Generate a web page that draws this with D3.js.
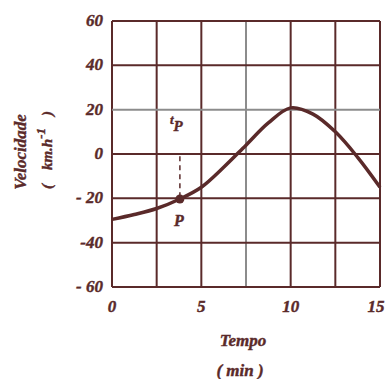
<!DOCTYPE html>
<html>
<head>
<meta charset="utf-8">
<script src="https://cdn.jsdelivr.net/npm/d3@7"></script>
<style>
body { margin: 0; background: #fff; }
svg text { font-family: "Liberation Serif", "DejaVu Serif", serif; font-style: italic; font-weight: bold; fill: #5a2a2a; stroke: #5a2a2a; stroke-width: 0.4; }
</style>
</head>
<body>
<div id="chart"></div>
<script>
// values
var tempo = [0, 1.25, 2.5, 3.8, 5, 6.25, 7.5, 8.75, 10, 11.25, 12.5, 13.75, 15];
var velocidade = [-29.5, -27.3, -24.6, -20.3, -15, -6, 4, 14, 20.8, 18, 10, -1.5, -15];
var xTicks = [0, 5, 10, 15];
var yTicks = [60, 40, 20, 0, -20, -40, -60];
var yTickText = ["60", "40", "20", "0", "- 20", "-40", "- 60"];
var gridX = [0, 2.5, 5, 7.5, 10, 12.5, 15];
var pontoP = {t: 3.8, v: -20.3};

var ink = "#5a2a2a", grey = "#8c8c8c";
var width = 391, height = 379;
var plotLeft = 112, plotRight = 380, plotTop = 21, plotBottom = 287;

var svg = d3.select("#chart").append("svg")
	.attr("width", width)
	.attr("height", height);

var x = d3.scaleLinear().domain([0, 15]).range([plotLeft, plotRight]);
var y = d3.scaleLinear().domain([-60, 60]).range([plotBottom, plotTop]);

// grid (the 7.5 column and the 20 row are printed in grey)
svg.append("g").selectAll("line").data(gridX).enter().append("line")
	.attr("x1", function (d) { return x(d); })
	.attr("x2", function (d) { return x(d); })
	.attr("y1", plotTop).attr("y2", plotBottom)
	.attr("stroke", function (d) { return d == 7.5 ? grey : ink; })
	.attr("stroke-width", 2);
svg.append("g").selectAll("line").data(yTicks).enter().append("line")
	.attr("x1", plotLeft).attr("x2", plotRight)
	.attr("y1", function (d) { return y(d); })
	.attr("y2", function (d) { return y(d); })
	.attr("stroke", function (d) { return d == 20 ? grey : ink; })
	.attr("stroke-width", 2);

// tick labels
svg.append("g").selectAll("text").data(yTicks).enter().append("text")
	.attr("x", 103)
	.attr("y", function (d) { return y(d) + 5; })
	.attr("text-anchor", "end")
	.attr("font-size", 17)
	.text(function (d, i) { return yTickText[i]; });
svg.append("g").selectAll("text").data(xTicks).enter().append("text")
	.attr("x", function (d) { return x(d) - (d == 15 ? 4 : 0); })
	.attr("y", 312)
	.attr("text-anchor", "middle")
	.attr("font-size", 17)
	.text(function (d) { return d; });

// curve
var line = d3.line()
	.x(function (d, i) { return x(tempo[i]); })
	.y(function (d) { return y(d); })
	.curve(d3.curveCatmullRom.alpha(0.5));
svg.append("path")
	.datum(velocidade)
	.attr("d", line)
	.attr("fill", "none")
	.attr("stroke", ink)
	.attr("stroke-width", 3.5);

// point P and t_P
svg.append("line")
	.attr("x1", x(pontoP.t)).attr("x2", x(pontoP.t))
	.attr("y1", y(-1)).attr("y2", y(pontoP.v) - 4)
	.attr("stroke", ink).attr("stroke-width", 1.5)
	.attr("stroke-dasharray", "5,4");
svg.append("circle")
	.attr("cx", x(pontoP.t)).attr("cy", y(pontoP.v))
	.attr("r", 4.5).attr("fill", ink);
svg.append("text")
	.attr("x", x(pontoP.t) - 1).attr("y", y(pontoP.v) + 27)
	.attr("text-anchor", "middle").attr("font-size", 16).text("P");
var tp = svg.append("text")
	.attr("x", x(pontoP.t) - 10).attr("y", 124)
	.attr("font-size", 13);
tp.append("tspan").text("t");
tp.append("tspan").attr("dy", 7).attr("font-size", 15).text("P");

// axis titles
svg.append("text")
	.attr("x", 243).attr("y", 346)
	.attr("text-anchor", "middle").attr("font-size", 17).text("Tempo");
svg.append("text")
	.attr("x", 240).attr("y", 376)
	.attr("text-anchor", "middle").attr("font-size", 17).text("( min )");
svg.append("text")
	.attr("transform", "translate(26,152) rotate(-90)")
	.attr("text-anchor", "middle").attr("font-size", 17).text("Velocidade");
var yt = svg.append("text")
	.attr("transform", "translate(52,150) rotate(-90)")
	.attr("text-anchor", "middle").attr("font-size", 15);
yt.append("tspan").text("(");
yt.append("tspan").attr("dx", 14).text("km.h");
yt.append("tspan").attr("dy", -7).attr("font-size", 13).text("-1");
yt.append("tspan").attr("dy", 7).attr("dx", 12).text(")");
</script>
</body>
</html>
